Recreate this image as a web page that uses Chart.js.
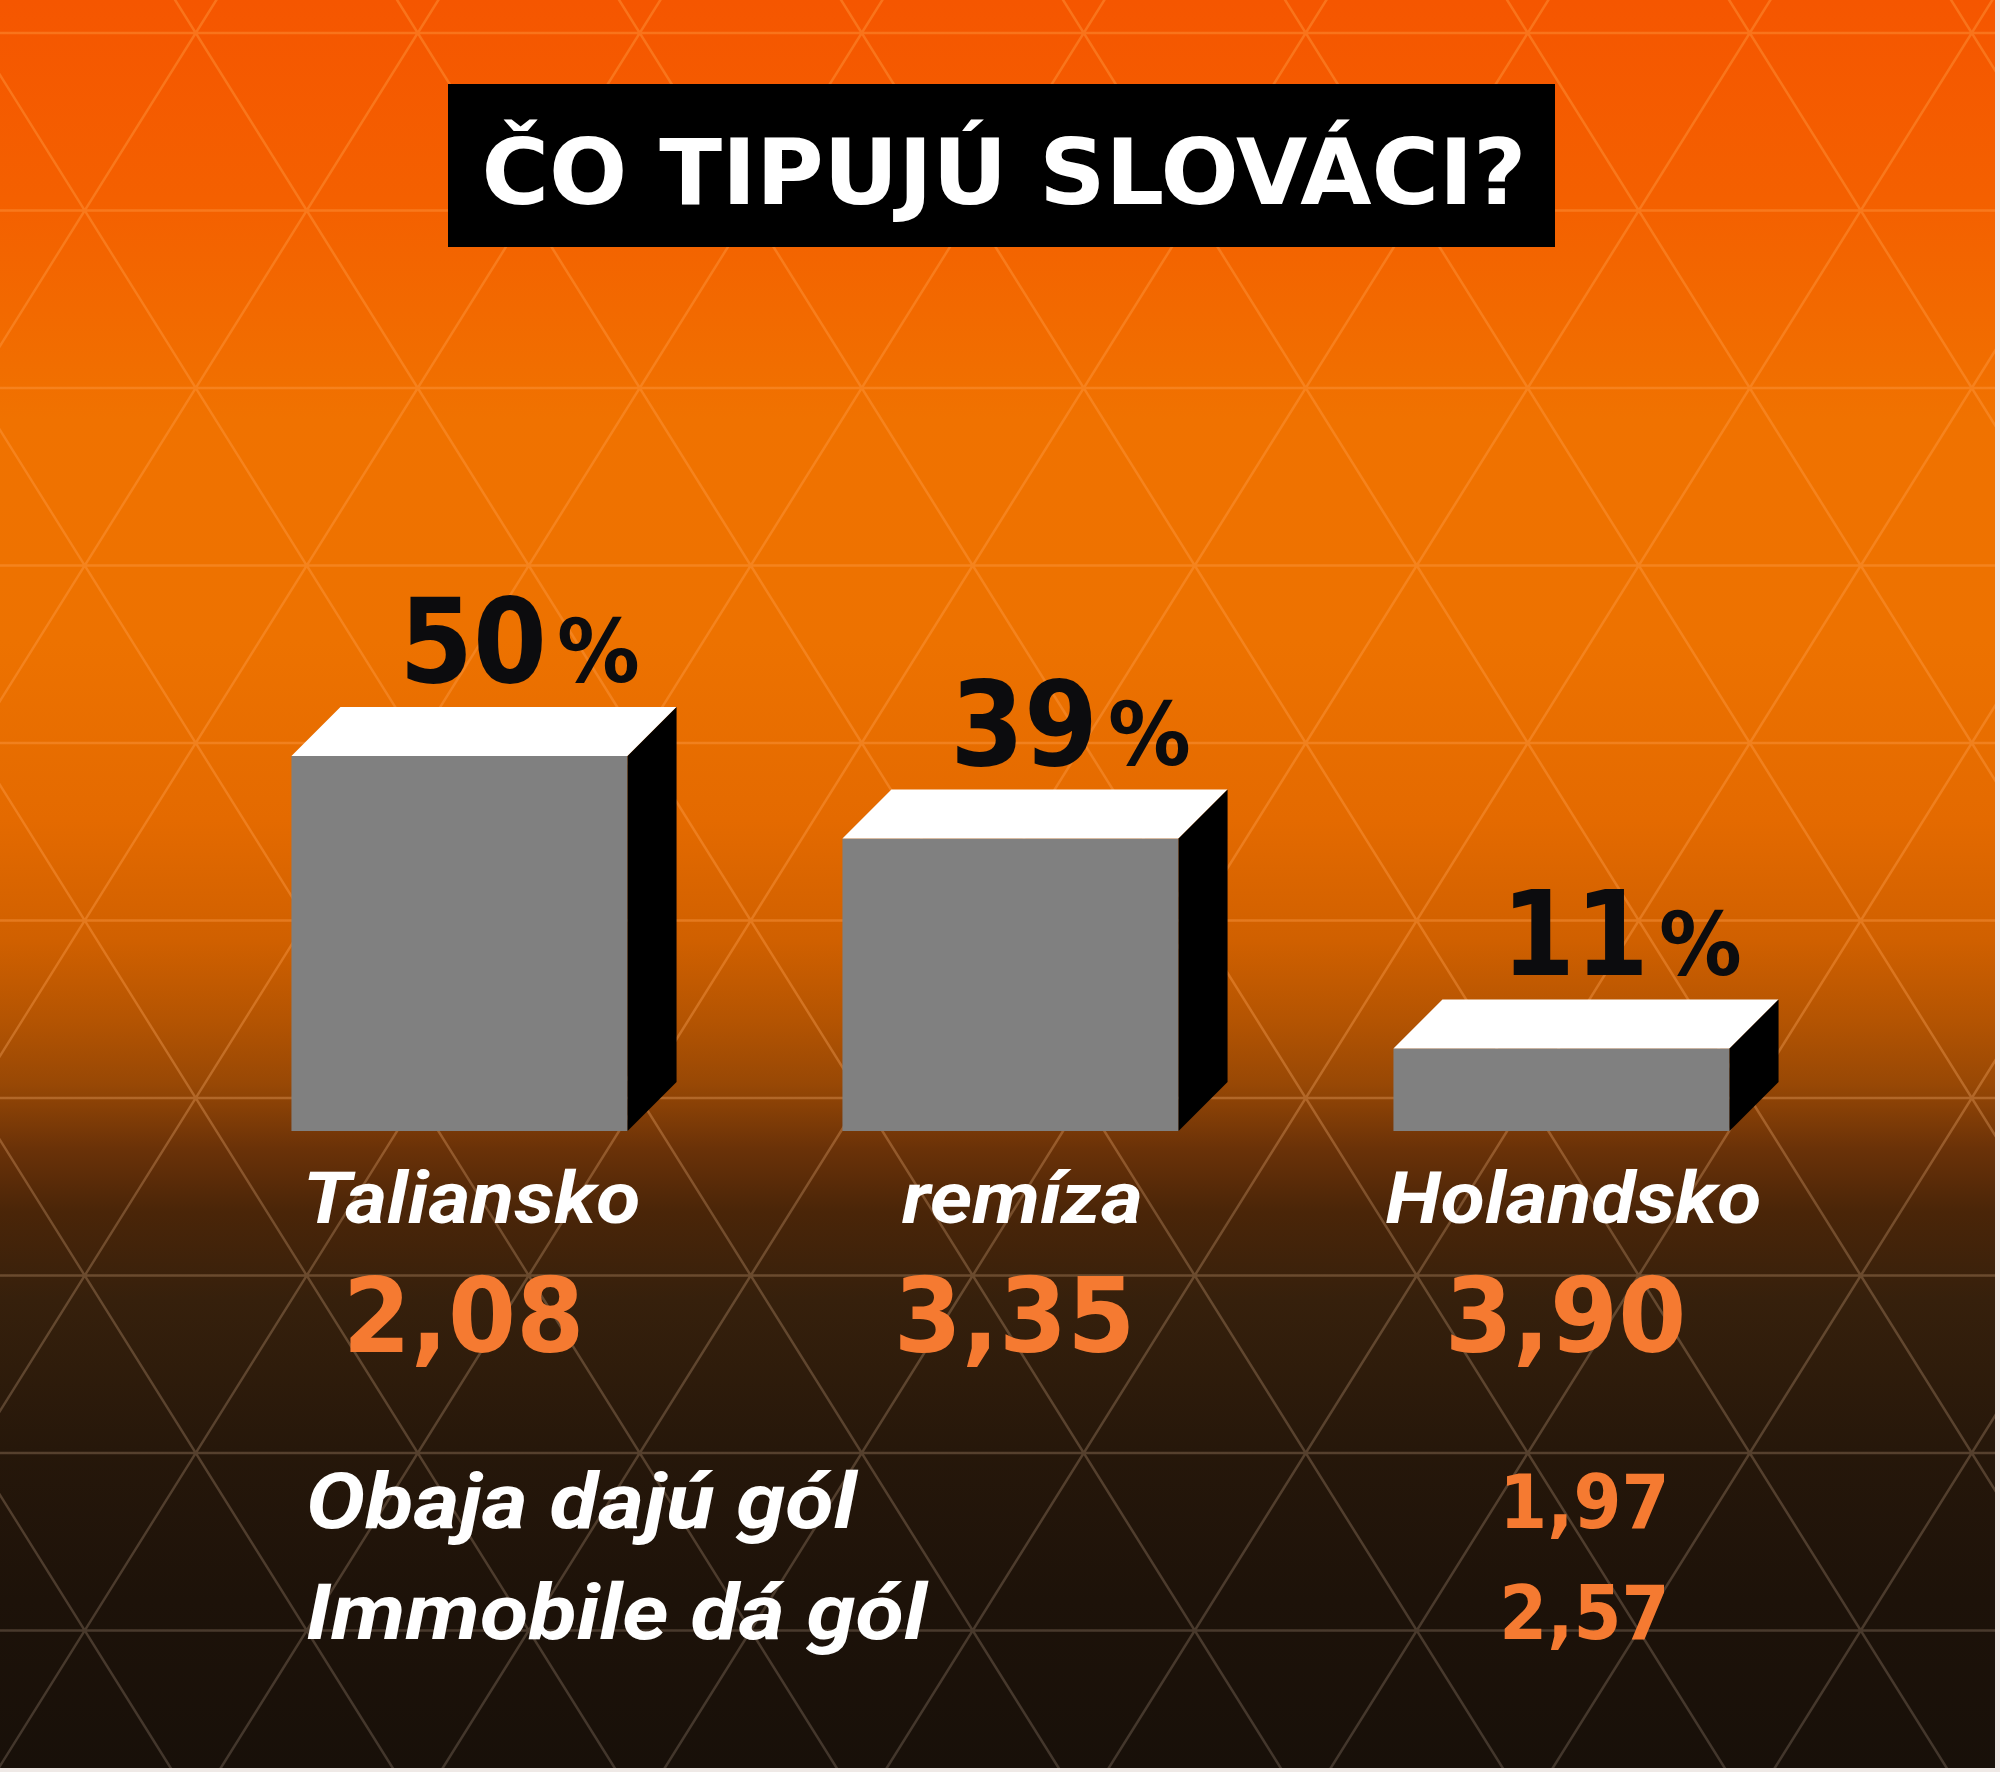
<!DOCTYPE html>
<html>
<head>
<meta charset="utf-8">
<script src="https://cdn.jsdelivr.net/npm/chart.js@4.4.1/dist/chart.umd.min.js"></script>
<style>
  html, body { margin: 0; padding: 0; background: #161210; }
  #wrap { width: 2000px; height: 1772px; }
  canvas { display: block; }
</style>
</head>
<body>
<div id="wrap"><canvas id="c" width="2000" height="1772"></canvas></div>
<script>
// ---------------- DATA ----------------
const titleText = 'ČO TIPUJÚ SLOVÁCI?';
const categories = ['Taliansko', 'remíza', 'Holandsko'];
const percents = [50, 39, 11];
const odds = [2.08, 3.35, 3.90];
const extraLabels = ['Obaja dajú gól', 'Immobile dá gól'];
const extraOdds = [1.97, 2.57];

// ---------------- LAYOUT / STYLE ----------------
const W = 2000, H = 1772;
const DEPTH_X = 49, DEPTH_Y = 49;
const ORANGE = '#f57a31';
const fmt = v => v.toFixed(2).replace('.', ',');

function drawText(ctx, s, x, y, o) {
  ctx.save();
  ctx.font = `${o.style || 'normal'} ${o.weight || 'bold'} ${o.size}px ${o.family}`;
  ctx.fillStyle = o.color;
  ctx.textBaseline = 'alphabetic';
  ctx.textAlign = o.align || 'left';
  ctx.translate(x, y);
  ctx.scale(o.sx || 1, 1);
  ctx.fillText(s, 0, 0);
  ctx.restore();
}
function textWidth(ctx, s, o) {
  ctx.save();
  ctx.font = `${o.style || 'normal'} ${o.weight || 'bold'} ${o.size}px ${o.family}`;
  const w = ctx.measureText(s).width * (o.sx || 1);
  ctx.restore();
  return w;
}

const DIGITS = '"DejaVu Sans", sans-serif';
const ITAL = 'Roboto, "DejaVu Sans", sans-serif';
const styles = {
  title:  { family: '"DejaVu Sans Condensed", "DejaVu Sans", sans-serif', size: 90, color: '#ffffff', align: 'center' },
  pctNum: { family: DIGITS, size: 118, sx: 0.90, color: '#0c0c0e' },
  pctSym: { family: DIGITS, size: 87, sx: 0.95, color: '#0c0c0e' },
  cat:    { family: ITAL, style: 'italic', size: 72, sx: 1.12, color: '#ffffff', align: 'center' },
  odd:    { family: DIGITS, size: 103, sx: 0.95, color: ORANGE, align: 'center' },
  extraL: { family: ITAL, style: 'italic', size: 77, sx: 1.15, color: '#ffffff', align: 'left' },
  extraV: { family: DIGITS, size: 75, sx: 0.92, color: ORANGE, align: 'right' }
};

// ---------------- BACKGROUND PLUGIN ----------------
const backgroundPlugin = {
  id: 'bgPattern',
  beforeDraw(chart) {
    const ctx = chart.ctx;
    ctx.save();
    const g = ctx.createLinearGradient(0, 0, 0, H);
    const stops = [
      [0, '#f55600'], [200, '#f46000'], [420, '#f07200'], [640, '#ed7200'],
      [820, '#e46a00'], [940, '#d06000'], [1020, '#b45402'], [1084, '#984805'],
      [1148, '#6b3208'], [1212, '#4a2508'], [1300, '#36200c'], [1450, '#26170a'],
      [1600, '#1d1209'], [1772, '#181009']
    ];
    stops.forEach(([y, c]) => g.addColorStop(y / H, c));
    ctx.fillStyle = g;
    ctx.fillRect(0, 0, W, H);

    // triangular lattice
    const y0 = 33, rowH = 177.5, halfW = 111;
    const lg = ctx.createLinearGradient(0, 0, 0, H);
    lg.addColorStop(0, 'rgba(255,150,60,0.45)');
    lg.addColorStop(0.55, 'rgba(255,160,80,0.38)');
    lg.addColorStop(0.68, 'rgba(255,200,150,0.25)');
    lg.addColorStop(1, 'rgba(255,225,200,0.18)');
    ctx.strokeStyle = lg;
    ctx.lineWidth = 2.5;
    ctx.beginPath();
    for (let y = y0 - rowH; y <= H + rowH; y += rowH) {
      ctx.moveTo(0, y); ctx.lineTo(W, y);
    }
    const slope = halfW / rowH;
    const span = (H + 400) * slope;
    for (let x0 = -span - 2 * halfW * 4; x0 <= W + span; x0 += 2 * halfW) {
      ctx.moveTo(x0 - (y0 + 200) * slope, -200);
      ctx.lineTo(x0 + (H + 200 - y0) * slope, H + 200);
      ctx.moveTo(x0 + (y0 + 200) * slope, -200);
      ctx.lineTo(x0 - (H + 200 - y0) * slope, H + 200);
    }
    ctx.stroke();

    // thin light frame at right / bottom edge
    ctx.fillStyle = '#efe9e6';
    ctx.fillRect(1995, 0, 5, H);
    ctx.fillRect(0, 1768, W, 4);

    // title box
    ctx.fillStyle = '#000000';
    ctx.fillRect(448, 84, 1107, 163);
    const t = styles.title;
    const tw = textWidth(ctx, titleText, t);
    drawText(ctx, titleText, 1004, 204, Object.assign({}, t, { sx: 1045 / tw }));
    ctx.restore();
  }
};

// ---------------- 3D BARS + LABELS PLUGIN ----------------
const bars3dPlugin = {
  id: 'bars3d',
  afterDatasetsDraw(chart) {
    const ctx = chart.ctx;
    const meta = chart.getDatasetMeta(0);
    ctx.save();
    meta.data.forEach((bar, i) => {
      const p = bar.getProps(['x', 'y', 'base', 'width'], true);
      const l = p.x - p.width / 2, r = p.x + p.width / 2;
      // top face
      ctx.fillStyle = '#ffffff';
      ctx.beginPath();
      ctx.moveTo(l, p.y);
      ctx.lineTo(l + DEPTH_X, p.y - DEPTH_Y);
      ctx.lineTo(r + DEPTH_X, p.y - DEPTH_Y);
      ctx.lineTo(r, p.y);
      ctx.closePath();
      ctx.fill();
      // side face
      ctx.fillStyle = '#000000';
      ctx.beginPath();
      ctx.moveTo(r, p.y);
      ctx.lineTo(r + DEPTH_X, p.y - DEPTH_Y);
      ctx.lineTo(r + DEPTH_X, p.base - DEPTH_Y);
      ctx.lineTo(r, p.base);
      ctx.closePath();
      ctx.fill();

      // percentage label
      const num = String(percents[i]);
      const wn = textWidth(ctx, num, styles.pctNum);
      const ws = textWidth(ctx, '%', styles.pctSym);
      const gap = 10;
      const cx = p.x + 60;
      const left = cx - (wn + gap + ws) / 2;
      const baseY = p.y - DEPTH_Y - 25;
      drawText(ctx, num, left, baseY, styles.pctNum);
      drawText(ctx, '%', left + wn + gap, baseY, styles.pctSym);

      // category and odds
      drawText(ctx, categories[i], p.x + 12, 1223, styles.cat);
      drawText(ctx, fmt(odds[i]), p.x + 4, 1352, styles.odd);
    });

    // extra bets
    const lastBar = meta.data[meta.data.length - 1];
    const rightX = lastBar.x + lastBar.width / 2 - 60;
    const rows = [1528, 1639];
    extraLabels.forEach((lab, k) => {
      drawText(ctx, lab, 306, rows[k], styles.extraL);
      drawText(ctx, fmt(extraOdds[k]), rightX, rows[k], styles.extraV);
    });
    ctx.restore();
  }
};

// ---------------- CHART ----------------
new Chart(document.getElementById('c'), {
  type: 'bar',
  data: {
    labels: categories,
    datasets: [{
      data: percents,
      backgroundColor: '#808080',
      borderWidth: 0,
      barPercentage: 0.61,
      categoryPercentage: 1
    }]
  },
  options: {
    responsive: false,
    animation: false,
    devicePixelRatio: 1,
    layout: { padding: { left: 184, right: 163, top: 381, bottom: 641 } },
    scales: {
      x: { display: false },
      y: { display: false, min: 0, max: 100 }
    },
    plugins: { legend: { display: false }, tooltip: { enabled: false }, title: { display: false } }
  },
  plugins: [backgroundPlugin, bars3dPlugin]
});
</script>
</body>
</html>
